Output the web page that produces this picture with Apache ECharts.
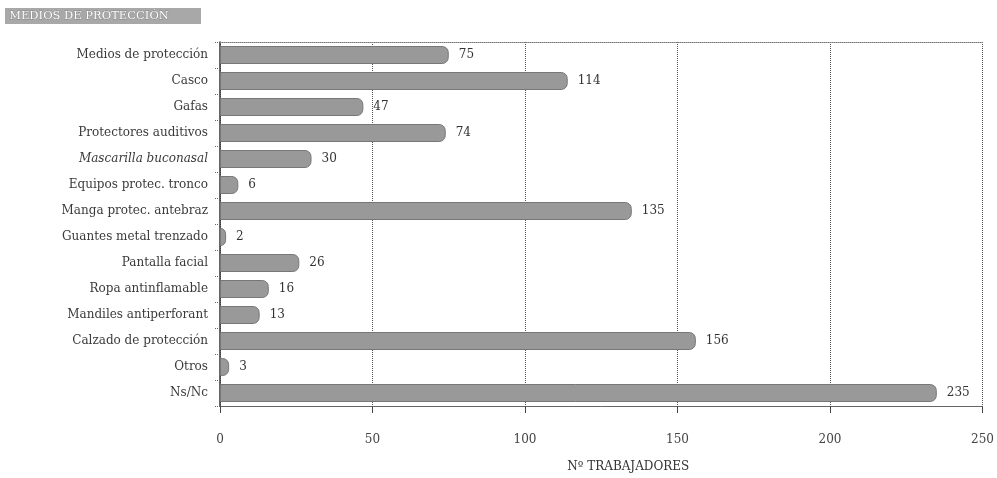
<!DOCTYPE html>
<html><head><meta charset="utf-8">
<script src="https://cdn.jsdelivr.net/npm/echarts@6/dist/echarts.min.js"></script>
<style>html,body{margin:0;padding:0;background:#fff}#c{width:997px;height:478px}</style>
</head><body><div id="c"></div>
<script>
const categories = ["Medios de protección","Casco","Gafas","Protectores auditivos","Mascarilla buconasal","Equipos protec. tronco","Manga protec. antebraz","Guantes metal trenzado","Pantalla facial","Ropa antinflamable","Mandiles antiperforant","Calzado de protección","Otros","Ns/Nc"];
const values = [75,114,47,74,30,6,135,2,26,16,13,156,3,235];
const xTicks = [0,50,100,150,200,250];
const titleText = "MEDIOS DE PROTECCIÓN";
const axisName = "Nº TRABAJADORES";

const serif = "DejaVu Serif";
const chart = echarts.init(document.getElementById('c'));
chart.setOption({
  animation:false,
  graphic:[{type:'rect',left:5,top:8,shape:{width:196,height:16},style:{fill:'#a8a8a8'}},
           {type:'text',left:9,top:10,style:{text:titleText,fill:'#fff',font:'11.5px "DejaVu Serif"',stroke:'#666',lineWidth:0.4}}],
  grid:{left:220,right:14,top:42,bottom:69},
  xAxis:[{type:'value',min:0,max:250,interval:50,
    name:axisName,nameLocation:'middle',nameGap:55,
    nameTextStyle:{fontFamily:serif,fontSize:12,color:'#333',padding:[0,0,0,54]},
    axisLine:{show:true,lineStyle:{color:'#666',width:1}},
    axisTick:{show:true,length:7,lineStyle:{color:'#444'}},
    axisLabel:{fontFamily:serif,fontSize:12,color:'#444',margin:28,
      formatter:v=>xTicks.includes(v)?String(v):''},
    splitLine:{show:true,lineStyle:{type:'dotted',color:'#555'}}},
   {type:'value',position:'top',min:0,max:250,interval:50,
    axisLine:{show:true,lineStyle:{type:'dotted',color:'#777'}},
    axisTick:{show:false},axisLabel:{show:false},splitLine:{show:false}}],
  yAxis:{type:'category',data:categories,inverse:true,
    axisLine:{show:true,lineStyle:{color:'#333',width:1.5}},
    axisTick:{show:true,length:5,lineStyle:{type:'dotted',color:'#666'}},
    axisLabel:{fontFamily:serif,fontSize:12,color:'#3a3a3a',margin:12,
      formatter:v=>v==="Mascarilla buconasal"?'{i|'+v+'}':v,
      rich:{i:{fontStyle:'italic',fontFamily:serif,fontSize:12,color:'#3a3a3a'}}}},
  series:[{type:'bar',data:values,barWidth:18,
    itemStyle:{color:'#999999',borderColor:'#777',borderWidth:1,borderRadius:[0,6,6,0]},
    label:{show:true,position:'right',distance:10,fontFamily:serif,fontSize:12,color:'#333'}}]
});
</script></body></html>
